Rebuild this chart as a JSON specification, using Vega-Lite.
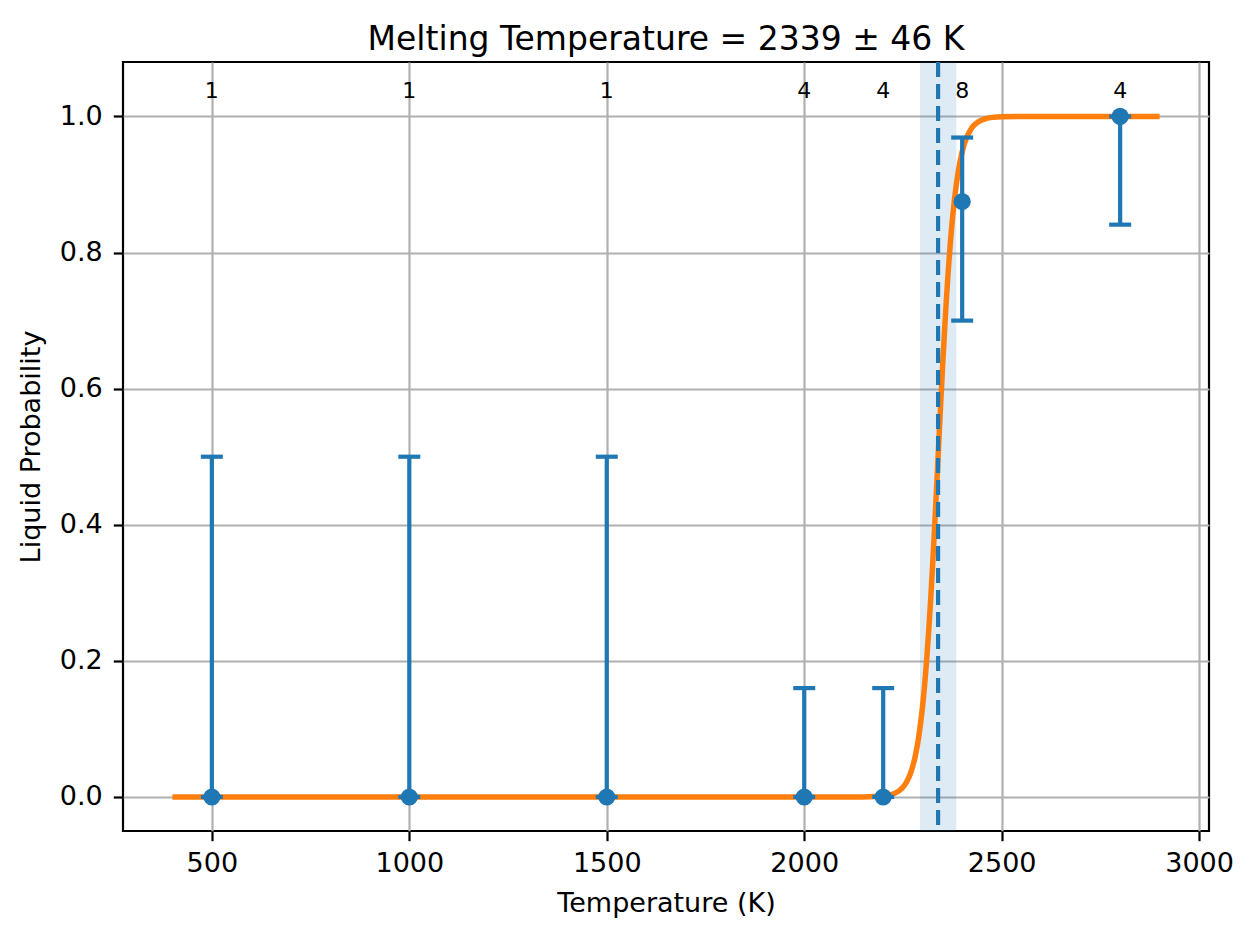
{
  "$schema": "https://vega.github.io/schema/vega-lite/v6.json",
  "width": 1086,
  "height": 769,
  "autosize": {"type": "none"},
  "padding": {"left": 123, "top": 62, "right": 44, "bottom": 108},
  "background": "white",
  "title": {
    "text": "Melting Temperature = 2339 ± 46 K",
    "font": "DejaVu Sans",
    "fontSize": 33,
    "fontWeight": "normal",
    "color": "black",
    "anchor": "middle",
    "baseline": "alphabetic",
    "offset": 15.5,
    "dy": 38.5
  },
  "config": {
    "view": {"stroke": "black", "strokeWidth": 2.2},
    "font": "DejaVu Sans",
    "axis": {
      "domain": false,
      "grid": true,
      "gridColor": "#b0b0b0",
      "gridWidth": 2.2,
      "gridOpacity": 1,
      "tickColor": "black",
      "tickWidth": 2.2,
      "tickSize": 9.7,
      "labelFont": "DejaVu Sans",
      "labelFontSize": 27,
      "labelColor": "black",
      "titleFont": "DejaVu Sans",
      "titleFontSize": 27,
      "titleFontWeight": "normal",
      "titleColor": "black"
    },
    "axisX": {"labelPadding": 10, "titleX": 543, "titleY": 72, "titleBaseline": "middle", "titleAlign": "center"},
    "axisY": {"labelPadding": 11, "titleX": -92, "titleY": 384.5, "titleBaseline": "middle", "titleAlign": "center", "titleAngle": -90}
  },
  "datasets": {
    "pts": [
      {"T": 500, "p": 0, "lo": 0, "hi": 0.5, "n": 1},
      {"T": 1000, "p": 0, "lo": 0, "hi": 0.5, "n": 1},
      {"T": 1500, "p": 0, "lo": 0, "hi": 0.5, "n": 1},
      {"T": 2000, "p": 0, "lo": 0, "hi": 0.16, "n": 4},
      {"T": 2200, "p": 0, "lo": 0, "hi": 0.16, "n": 4},
      {"T": 2400, "p": 0.875, "lo": 0.70, "hi": 0.969, "n": 8},
      {"T": 2800, "p": 1.0, "lo": 0.841, "hi": 1.0, "n": 4}
    ],
    "melt": [{"Tm": 2339, "lo": 2293, "hi": 2385}],
    "curve": [
      {"T": 400, "P": 0},
      {"T": 1000, "P": 0},
      {"T": 2000, "P": 0},
      {"T": 2100, "P": 0.00001},
      {"T": 2150, "P": 0.00012},
      {"T": 2200, "P": 0.00133},
      {"T": 2220, "P": 0.00345},
      {"T": 2240, "P": 0.00889},
      {"T": 2250, "P": 0.01423},
      {"T": 2260, "P": 0.0227},
      {"T": 2270, "P": 0.0361},
      {"T": 2280, "P": 0.0568},
      {"T": 2290, "P": 0.0884},
      {"T": 2300, "P": 0.135},
      {"T": 2305, "P": 0.1654},
      {"T": 2310, "P": 0.2009},
      {"T": 2315, "P": 0.2418},
      {"T": 2320, "P": 0.2881},
      {"T": 2325, "P": 0.3393},
      {"T": 2330, "P": 0.3944},
      {"T": 2335, "P": 0.4525},
      {"T": 2339, "P": 0.5},
      {"T": 2345, "P": 0.5709},
      {"T": 2350, "P": 0.628},
      {"T": 2355, "P": 0.6818},
      {"T": 2360, "P": 0.7311},
      {"T": 2365, "P": 0.7753},
      {"T": 2370, "P": 0.814},
      {"T": 2375, "P": 0.8474},
      {"T": 2380, "P": 0.8757},
      {"T": 2390, "P": 0.919},
      {"T": 2400, "P": 0.9481},
      {"T": 2410, "P": 0.9671},
      {"T": 2420, "P": 0.9793},
      {"T": 2430, "P": 0.9871},
      {"T": 2440, "P": 0.9919},
      {"T": 2460, "P": 0.9969},
      {"T": 2480, "P": 0.9988},
      {"T": 2500, "P": 0.9995},
      {"T": 2550, "P": 0.99996},
      {"T": 2600, "P": 1.0},
      {"T": 2900, "P": 1.0}
    ]
  },
  "layer": [
    {
      "data": {"name": "melt"},
      "mark": {"type": "rect", "color": "#1f77b4", "opacity": 0.15},
      "encoding": {
        "x": {"field": "lo", "type": "quantitative", "title": "Temperature (K)",
              "scale": {"domain": [275, 3025], "nice": false, "zero": false},
              "axis": {"values": [500, 1000, 1500, 2000, 2500, 3000], "format": "d"}},
        "x2": {"field": "hi"}
      }
    },
    {
      "data": {"name": "curve"},
      "mark": {"type": "line", "color": "#ff7f0e", "strokeWidth": 5.5, "interpolate": "monotone"},
      "encoding": {
        "x": {"field": "T", "type": "quantitative", "title": "Temperature (K)"},
        "y": {"field": "P", "type": "quantitative", "title": "Liquid Probability",
              "scale": {"domain": [-0.05, 1.08], "nice": false, "zero": false},
              "axis": {"values": [0, 0.2, 0.4, 0.6, 0.8, 1.0], "format": ".1f"}}
      }
    },
    {
      "data": {"name": "pts"},
      "mark": {"type": "rule", "color": "#1f77b4", "strokeWidth": 4.2},
      "encoding": {
        "x": {"field": "T", "type": "quantitative", "title": "Temperature (K)"},
        "y": {"field": "lo", "type": "quantitative", "title": "Liquid Probability"},
        "y2": {"field": "hi"}
      }
    },
    {
      "data": {"name": "pts"},
      "mark": {"type": "tick", "color": "#1f77b4", "orient": "horizontal", "size": 22, "thickness": 4.2, "opacity": 1},
      "encoding": {
        "x": {"field": "T", "type": "quantitative", "title": "Temperature (K)"},
        "y": {"field": "hi", "type": "quantitative", "title": "Liquid Probability"}
      }
    },
    {
      "data": {"name": "pts"},
      "mark": {"type": "tick", "color": "#1f77b4", "orient": "horizontal", "size": 22, "thickness": 4.2, "opacity": 1},
      "encoding": {
        "x": {"field": "T", "type": "quantitative", "title": "Temperature (K)"},
        "y": {"field": "lo", "type": "quantitative", "title": "Liquid Probability"}
      }
    },
    {
      "data": {"name": "pts"},
      "mark": {"type": "circle", "color": "#1f77b4", "size": 295, "opacity": 1},
      "encoding": {
        "x": {"field": "T", "type": "quantitative", "title": "Temperature (K)"},
        "y": {"field": "p", "type": "quantitative", "title": "Liquid Probability"}
      }
    },
    {
      "data": {"name": "melt"},
      "mark": {"type": "rule", "color": "#1f77b4", "strokeWidth": 4.2, "strokeDash": [15, 7]},
      "encoding": {
        "x": {"field": "Tm", "type": "quantitative", "title": "Temperature (K)"}
      }
    },
    {
      "data": {"name": "pts"},
      "mark": {"type": "text", "font": "DejaVu Sans", "fontSize": 22, "color": "black", "baseline": "middle", "align": "center"},
      "encoding": {
        "x": {"field": "T", "type": "quantitative", "title": "Temperature (K)"},
        "y": {"datum": 1.037},
        "text": {"field": "n", "type": "nominal"}
      }
    }
  ]
}
